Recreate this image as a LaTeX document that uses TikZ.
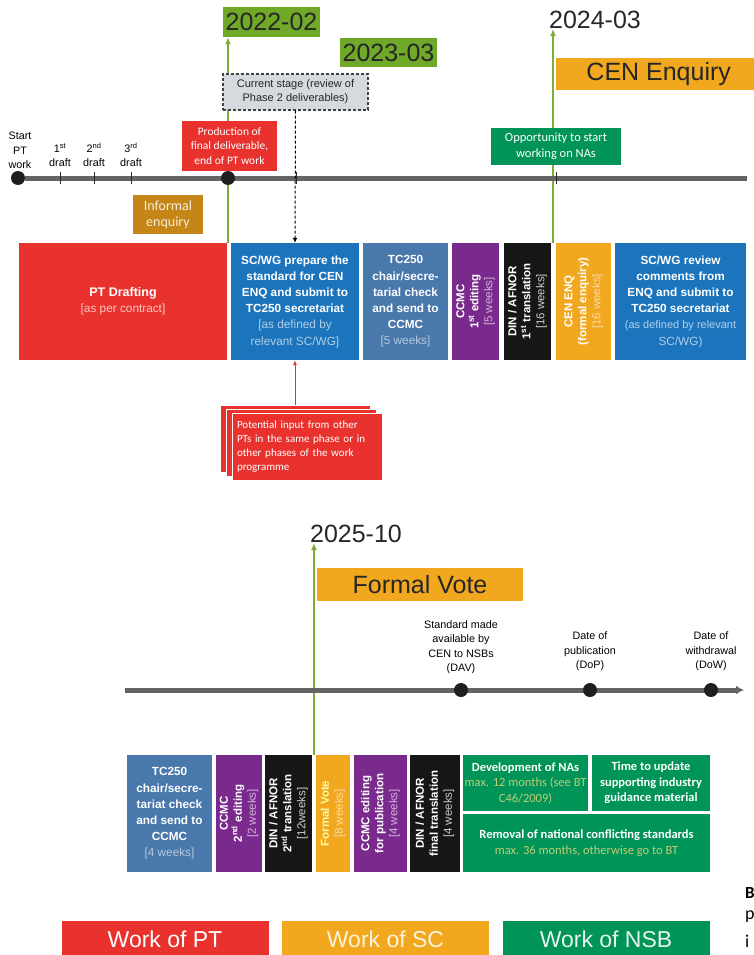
\documentclass[tikz,border=0pt]{standalone}
\usepackage{fontspec}
\setmainfont{Liberation Sans}
\newfontfamily\calfont{Carlito}
\usetikzlibrary{arrows.meta,backgrounds}

\definecolor{ptred}{RGB}{233,50,45}
\definecolor{scblue}{RGB}{28,117,188}
\definecolor{tcblue}{RGB}{72,120,172}
\definecolor{ccpurple}{RGB}{122,42,140}
\definecolor{dinblack}{RGB}{22,22,22}
\definecolor{enqorange}{RGB}{241,168,30}
\definecolor{nsbgreen}{RGB}{0,148,88}
\definecolor{dategreen}{RGB}{112,168,40}
\definecolor{arrgreen}{RGB}{125,172,55}
\definecolor{infbrown}{RGB}{196,134,22}
\definecolor{axisgrey}{RGB}{100,100,100}
\definecolor{stagegrey}{RGB}{214,217,221}
\definecolor{nsbsoft}{RGB}{190,205,120}

% lighter second line inside the coloured boxes
\newcommand{\soft}[2][white!72!black]{{\mdseries\color{#1}#2}}

\begin{document}
\begin{tikzpicture}[x=1pt,y=-1pt,
    box/.style={inner sep=0pt, align=center, text=white, minimum height=117pt,
      font=\fontsize{11.8}{16.2}\selectfont\bfseries},
    vbox/.style={box, rotate=90, minimum width=117pt, minimum height=#1,
      font=\fontsize{11.5}{14}\selectfont\bfseries},
    nsb/.style={fill=nsbgreen, inner sep=0pt, align=center, text=white,
      font=\calfont\fontsize{12.5}{15.5}\selectfont\bfseries},
    datelbl/.style={inner sep=0pt, text=black!85, font=\fontsize{25}{25}\selectfont},
    stagebar/.style={fill=enqorange, inner sep=0pt, minimum height=32pt,
      text=black!85, font=\fontsize{25}{25}\selectfont},
    flag/.style={inner sep=0pt, align=center, text=white,
      font=\calfont\fontsize{11.5}{14.5}\selectfont},
    tlabel/.style={inner sep=0pt, align=center, anchor=south,
      font=\fontsize{10.8}{14.5}\selectfont},
    tdot/.style={circle, fill=black!88, inner sep=0pt, minimum size=14pt},
    tick/.style={line width=1pt, draw=black!85},
    axis/.style={line width=5pt, draw=axisgrey},
    datearrow/.style={-{Latex[length=7pt,width=6pt]}, line width=2pt, draw=arrgreen},
    inbox/.style={fill=ptred, draw=white, line width=0.8pt, minimum width=150pt,
      minimum height=67pt, inner sep=0pt},
    legendbox/.style={inner sep=0pt, minimum height=36pt, minimum width=207pt,
      text=white, font=\fontsize{23}{23}\selectfont}]

\useasboundingbox (0,0) rectangle (753,955);

% ---- upper time line
\node[tdot] (start) at (18,178) {};
\node[tdot] (endpt) at (228,178) {};
\coordinate (enq) at (553,178);
\coordinate (tEnd) at (747,178);
\foreach \x in {60,94,131,296,556}
  \draw[tick] (\x,172) -- (\x,184);

\node[tlabel] (lstart) at (20,169) {Start\\PT\\work};
\node[tlabel] (ld1) at (60,167) {1\textsuperscript{st}\\draft};
\node[tlabel] (ld2) at (94,167) {2\textsuperscript{nd}\\draft};
\node[tlabel] (ld3) at (131,167) {3\textsuperscript{rd}\\draft};

\node[datelbl, fill=dategreen, minimum width=97pt, minimum height=30pt] (lbl22) at (271.5,22) {2022-02};
\node[datelbl, fill=dategreen, minimum width=97pt, minimum height=29pt] (lbl23) at (388.5,52.5) {2023-03};
\node[datelbl] (lbl24) at (595,20) {2024-03};
\node[stagebar, anchor=west, minimum width=205pt] (cenbar) at (556,74) {CEN Enquiry};

\node[draw=black!75, dash pattern=on 3pt off 2pt, line width=1.1pt, fill=stagegrey,
  minimum width=145pt, minimum height=36pt, inner sep=0pt, align=center,
  font=\fontsize{11}{14}\selectfont, text=black!85] (curstage) at (295.5,92)
  {Current stage (review of\\Phase 2 deliverables)};
\node[flag, fill=ptred, minimum width=95pt, minimum height=50pt] (prod) at (229.5,146)
  {Production of\\final deliverable,\\end of PT work};
\node[flag, fill=nsbgreen, minimum width=130pt, minimum height=37pt,
  font=\calfont\fontsize{12.5}{16}\selectfont] (opp) at (556,146.5)
  {Opportunity to start\\working on NAs};
\node[flag, fill=infbrown, minimum width=70pt, minimum height=39pt,
  font=\calfont\fontsize{14}{16}\selectfont, text=white!85!infbrown] (informal) at (168,214.5)
  {Informal\\enquiry};

% ---- upper row of stages
\node[box, fill=ptred, minimum width=208pt] (pt) at (123,301.5)
  {\fontsize{12.5}{16}\selectfont PT Drafting\\\soft[white!72!ptred]{[as per contract]}};
\node[box, fill=scblue, minimum width=128pt] (prep) at (295,301.5)
  {SC/WG prepare the\\standard for CEN\\ENQ and submit to\\TC250 secretariat\\
   \soft[white!65!scblue]{[as defined by}\\\soft[white!65!scblue]{relevant SC/WG]}};
\node[box, fill=tcblue, minimum width=85pt] (tcchk) at (405.5,301.5)
  {TC250\\chair/secre-\\tarial check\\and send to\\CCMC\\\soft[white!60!tcblue]{[5 weeks]}};
\node[vbox=47pt, fill=ccpurple] (ccmc1) at (475.5,301.5)
  {CCMC\\1\textsuperscript{st} editing\\\soft[white!65!ccpurple]{[5 weeks]}};
\node[vbox=47pt, fill=dinblack] (din1) at (527.5,301.5)
  {DIN / AFNOR\\1\textsuperscript{st} translation\\\soft[white!80!black]{[16 weeks]}};
\node[vbox=55pt, fill=enqorange] (cenenq) at (583.5,301.5)
  {CEN ENQ\\(formal enquiry)\\\soft[white!60!enqorange]{[16 weeks]}};
\node[box, fill=scblue, minimum width=131pt] (review) at (680.5,301.5)
  {SC/WG review\\comments from\\ENQ and submit to\\TC250 secretariat\\
   \soft[white!65!scblue]{\fontsize{11}{16.2}\selectfont(as defined by relevant}\\\soft[white!65!scblue]{SC/WG)}};

% ---- input from other PTs
\node[inbox] (inp1) at (295,438.5) {};
\node[inbox] (inp2) at (301,442.5) {};
\node[inbox, text width=140pt, align=left, text=white, inner sep=5pt,
  font=\calfont\fontsize{11}{13.8}\selectfont] (inp3) at (307,446.5)
  {Potential input from other\\PTs in the same phase or in\\other phases of the work\\programme};

% ---- lower time line
\coordinate (bStart) at (125,690);
\coordinate (bEnd) at (744,690);
\node[tdot] (dav) at (461,690) {};
\node[tdot] (dop) at (590,690) {};
\node[tdot] (dow) at (711,690) {};
\node[tlabel] (ldav) at (461,674) {Standard made\\available by\\CEN to NSBs\\(DAV)};
\node[tlabel] (ldop) at (590,671) {Date of\\publication\\(DoP)};
\node[tlabel] (ldow) at (711,671) {Date of\\withdrawal\\(DoW)};

\node[datelbl] (lbl25) at (356,534) {2025-10};
\node[stagebar, minimum width=206pt, minimum height=33pt] (fvbar) at (420,584.5) {Formal Vote};
\coordinate (vote) at (314,755);

% ---- lower row of stages
\node[box, fill=tcblue, minimum width=85pt] (tcchk2) at (169.5,813.5)
  {TC250\\chair/secre-\\tariat check\\and send to\\CCMC\\\soft[white!60!tcblue]{[4 weeks]}};
\node[vbox=46pt, fill=ccpurple] (ccmc2) at (239,813.5)
  {CCMC\\2\textsuperscript{nd} editing\\\soft[white!65!ccpurple]{[2 weeks]}};
\node[vbox=47pt, fill=dinblack] (din2) at (288.5,813.5)
  {DIN / AFNOR\\2\textsuperscript{nd} translation\\\soft[white!80!black]{[12weeks]}};
\node[vbox=34pt, fill=enqorange] (fvote) at (333,813.5)
  {\color{white!65!yellow}Formal Vote\\\soft[white!60!enqorange]{[8 weeks]}};
\node[vbox=53pt, fill=ccpurple] (ccmcpub) at (380.5,813.5)
  {CCMC editing\\for publication\\\soft[white!65!ccpurple]{[4 weeks]}};
\node[vbox=50pt, fill=dinblack] (dinfin) at (435,813.5)
  {DIN / AFNOR\\final translation\\\soft[white!80!black]{[4 weeks]}};
\node[nsb, minimum width=125pt, minimum height=56pt] (nas) at (525.5,783)
  {Development of NAs\\\soft[nsbsoft]{max. 12 months (see BT}\\\soft[nsbsoft]{C46/2009)}};
\node[nsb, minimum width=118pt, minimum height=56pt] (upd) at (651,783)
  {Time to update\\supporting industry\\guidance material};
\node[nsb, minimum width=247pt, minimum height=58pt] (removal) at (586.5,843)
  {Removal of national conflicting standards\\\soft[nsbsoft]{max. 36 months, otherwise go to BT}};

% ---- legend
\node[legendbox, fill=ptred] (wpt) at (165,939) {Work of PT};
\node[legendbox, fill=enqorange, text=white!85!enqorange] (wsc) at (385.5,939) {Work of SC};
\node[legendbox, fill=nsbgreen, text=white!90!nsbgreen] (wnsb) at (606,939) {Work of NSB};

% cut-off text at the right edge
\node[anchor=west, inner sep=0pt, font=\calfont\bfseries\fontsize{17}{17}\selectfont] (frb) at (745,893) {B};
\node[anchor=west, inner sep=0pt, font=\calfont\fontsize{18}{18}\selectfont] (frp) at (745,917) {p};
\node[anchor=west, inner sep=0pt, font=\calfont\fontsize{18}{18}\selectfont] (fri) at (745,941) {i};

% ---- connectors
\begin{scope}[on background layer]
  \draw[datearrow] (endpt |- pt.north) -- (endpt |- lbl22.south);
  \draw[datearrow] (enq |- prep.north) -- (enq |- lbl24.south);
  \draw[datearrow] (vote) -- (vote |- lbl25.south);
  \draw[axis] (start) -- (tEnd);
  \draw[axis, -{Latex[length=8pt,width=9pt]}] (bStart) -- (bEnd);
\end{scope}
\draw[-{Latex[length=5pt,width=5pt]}, dash pattern=on 3pt off 2pt, line width=1pt] (curstage.south) -- (prep.north);
\draw[-{Latex[length=5pt,width=4pt]}, draw=ptred, line width=0.8pt] (inp1.north -| prep.south) -- (prep.south);
\end{tikzpicture}
\end{document}
